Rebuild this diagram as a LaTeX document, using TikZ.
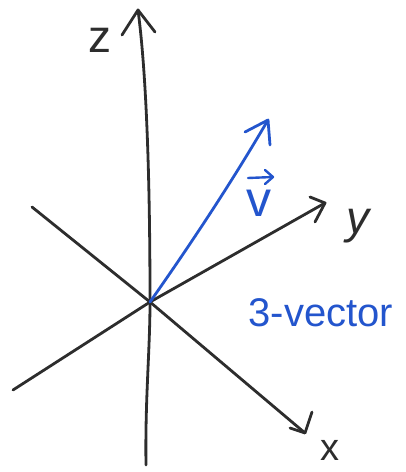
\documentclass[tikz,border=0pt]{standalone}
\usepackage{fontspec}
\setmainfont{Liberation Sans}
\usetikzlibrary{calc}
\definecolor{handblue}{RGB}{35,85,205}
\definecolor{ink}{RGB}{45,45,45}
\tikzset{
  axis/.style={draw=ink, line width=2.8pt, line cap=round, line join=round},
  vecline/.style={draw=handblue, line width=2.8pt, line cap=round, line join=round},
  thinblue/.style={draw=handblue, line width=2.4pt, line cap=round, line join=round},
  lbl/.style={text=ink, inner sep=0pt},
  bluelbl/.style={text=handblue, inner sep=0pt}
}
\begin{document}
\begin{tikzpicture}[x=1pt,y=-1pt]
\useasboundingbox (0,0) rectangle (406,472);
% key points
\coordinate (O) at (150,302);
\coordinate (zt) at (138,10);
\coordinate (zb) at (146,465);
\coordinate (xa) at (32,207);
\coordinate (xt) at (305,433);
\coordinate (ya) at (13,390);
\coordinate (yt) at (325,203);
\coordinate (vt) at (268,120);
% axes
\draw[axis] (zb) .. controls (145,400) and (150,350) .. (O)
            .. controls (150,170) and (146,70) .. (zt);
\draw[axis] (xa) -- (O) -- (xt);
\draw[axis] (ya) -- (O) -- (yt);
% arrowheads
\draw[axis] ($(zt)+(-16,25)$) -- (zt) -- ($(zt)+(17,22)$);
\draw[axis] ($(xt)+(7,-21)$) -- (xt) -- ($(xt)+(-15,-5)$);
\draw[axis] ($(yt)+(-15,-6)$) -- (yt) -- ($(yt)+(-10,19)$);
% vector
\draw[vecline] (O) .. controls (190,245) and (230,185) .. (vt);
\draw[vecline] ($(vt)+(-23,12)$) -- (vt) -- ($(vt)+(2,25)$);
% labels
\node[lbl, font=\fontsize{46}{46}\selectfont] (zl) at (100,40) {z};
\node[lbl, font=\fontsize{46}{46}\selectfont\itshape] (yl) at (358,226) {y};
\node[lbl, font=\fontsize{38}{38}\selectfont] (xl) at (330,450) {x};
\node[bluelbl, font=\fontsize{50}{50}\selectfont, anchor=base] (vl) at (259,216) {v};
\coordinate (va) at (248,178);
\coordinate (vb) at (273,177);
\draw[thinblue] (va) -- (vb);
\draw[thinblue] ($(vb)+(-8,-7)$) -- (vb) -- ($(vb)+(-8,7)$);
\node[bluelbl, font=\fontsize{40}{40}\selectfont] (tv) at (321,313) {3-vector};
\end{tikzpicture}
\end{document}
